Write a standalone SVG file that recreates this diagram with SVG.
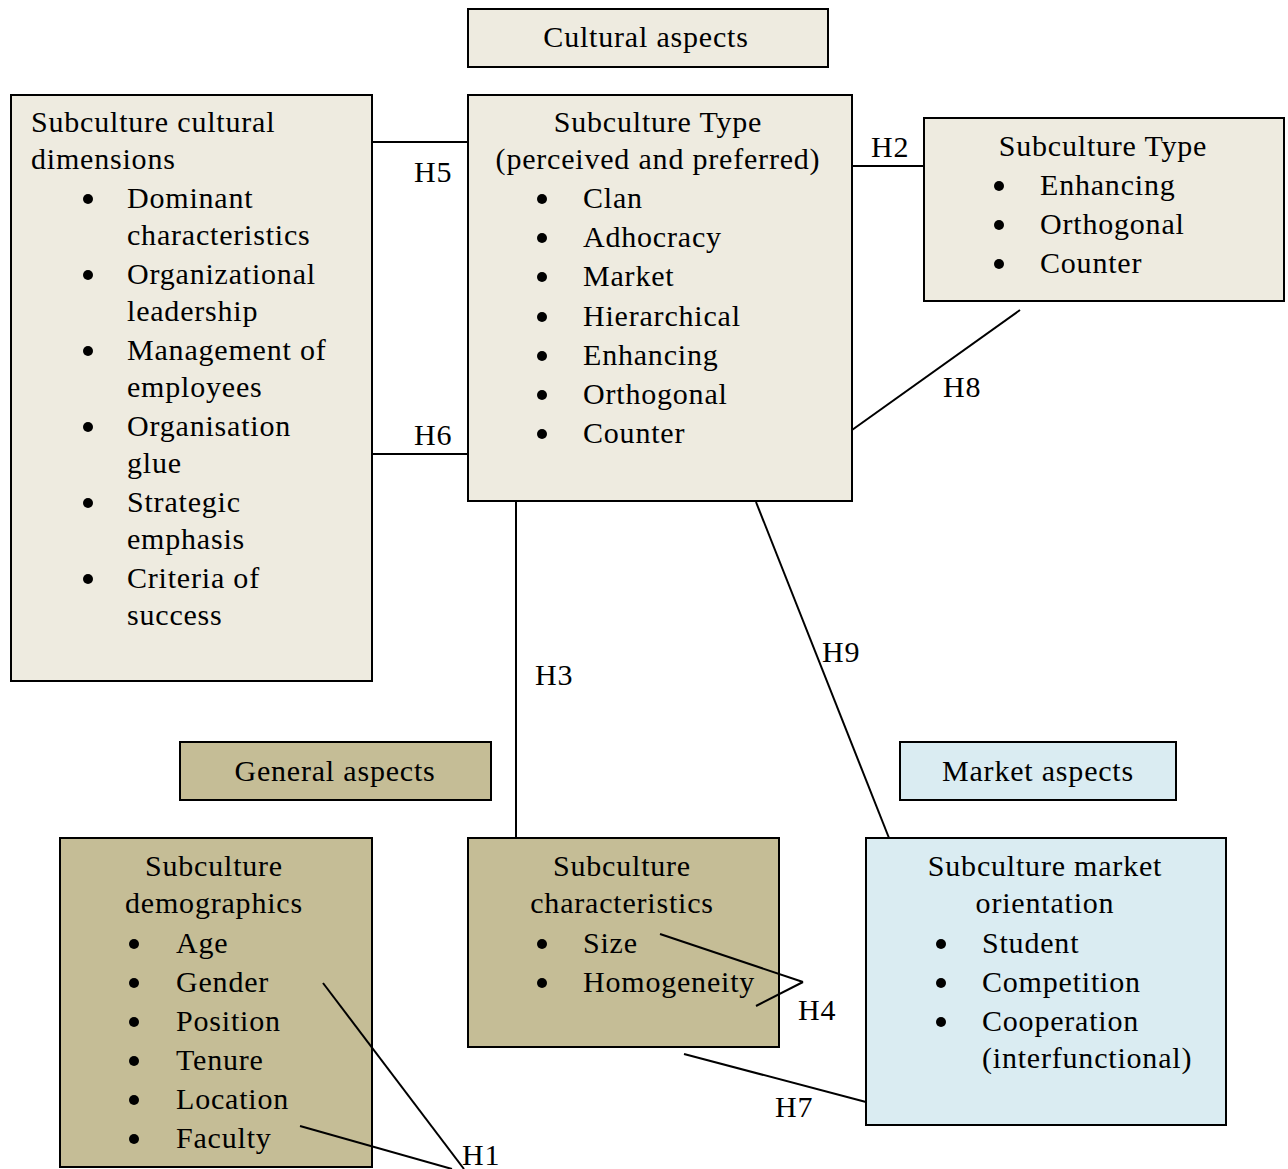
<svg xmlns="http://www.w3.org/2000/svg" width="1288" height="1169" viewBox="0 0 1288 1169">
  <style>
    text { font-family: "Liberation Serif", "Times New Roman", serif; font-size: 30px; letter-spacing: 0.8px; fill: #000; }
    .c { text-anchor: middle; }
    .box { stroke: #000; stroke-width: 2; }
    .cult { fill: #eeebe0; }
    .gen { fill: #c5bd96; }
    .mkt { fill: #daecf2; }
    .conn line { stroke: #000; stroke-width: 2; }
    .dot { fill: #000; }
  </style>

  <rect width="1288" height="1169" fill="#fff"/>

  <!-- Section headers -->
  <g id="cultural-aspects">
    <rect class="box cult" x="468" y="9" width="360" height="58"/>
    <text class="c" x="646" y="47">Cultural aspects</text>
  </g>
  <g id="general-aspects">
    <rect class="box gen" x="180" y="742" width="311" height="58"/>
    <text class="c" x="335" y="781">General aspects</text>
  </g>
  <g id="market-aspects">
    <rect class="box mkt" x="900" y="742" width="276" height="58"/>
    <text class="c" x="1038" y="781">Market aspects</text>
  </g>

  <!-- Subculture cultural dimensions -->
  <g id="cultural-dimensions">
    <rect class="box cult" x="11" y="95" width="361" height="586"/>
    <text x="31" y="132">Subculture cultural</text>
    <text x="31" y="169">dimensions</text>
    <circle class="dot" cx="88" cy="199" r="5"/>
    <text x="127" y="208">Dominant</text>
    <text x="127" y="245">characteristics</text>
    <circle class="dot" cx="88" cy="275" r="5"/>
    <text x="127" y="284">Organizational</text>
    <text x="127" y="321">leadership</text>
    <circle class="dot" cx="88" cy="351" r="5"/>
    <text x="127" y="360">Management of</text>
    <text x="127" y="397">employees</text>
    <circle class="dot" cx="88" cy="427" r="5"/>
    <text x="127" y="436">Organisation</text>
    <text x="127" y="473">glue</text>
    <circle class="dot" cx="88" cy="503" r="5"/>
    <text x="127" y="512">Strategic</text>
    <text x="127" y="549">emphasis</text>
    <circle class="dot" cx="88" cy="579" r="5"/>
    <text x="127" y="588">Criteria of</text>
    <text x="127" y="625">success</text>
  </g>

  <!-- Subculture type (perceived and preferred) -->
  <g id="subculture-type-main">
    <rect class="box cult" x="468" y="95" width="384" height="406"/>
    <text class="c" x="658" y="132">Subculture Type</text>
    <text class="c" x="658" y="169">(perceived and preferred)</text>
    <circle class="dot" cx="542" cy="199" r="5"/>
    <text x="583" y="208">Clan</text>
    <circle class="dot" cx="542" cy="238" r="5"/>
    <text x="583" y="247">Adhocracy</text>
    <circle class="dot" cx="542" cy="277" r="5"/>
    <text x="583" y="286">Market</text>
    <circle class="dot" cx="542" cy="317" r="5"/>
    <text x="583" y="326">Hierarchical</text>
    <circle class="dot" cx="542" cy="356" r="5"/>
    <text x="583" y="365">Enhancing</text>
    <circle class="dot" cx="542" cy="395" r="5"/>
    <text x="583" y="404">Orthogonal</text>
    <circle class="dot" cx="542" cy="434" r="5"/>
    <text x="583" y="443">Counter</text>
  </g>

  <!-- Subculture type (enhancing / orthogonal / counter) -->
  <g id="subculture-type-right">
    <rect class="box cult" x="924" y="118" width="360" height="183"/>
    <text class="c" x="1103" y="156">Subculture Type</text>
    <circle class="dot" cx="999" cy="186" r="5"/>
    <text x="1040" y="195">Enhancing</text>
    <circle class="dot" cx="999" cy="225" r="5"/>
    <text x="1040" y="234">Orthogonal</text>
    <circle class="dot" cx="999" cy="264" r="5"/>
    <text x="1040" y="273">Counter</text>
  </g>

  <!-- Subculture demographics -->
  <g id="demographics">
    <rect class="box gen" x="60" y="838" width="312" height="329"/>
    <text class="c" x="214" y="876">Subculture</text>
    <text class="c" x="214" y="913">demographics</text>
    <circle class="dot" cx="134" cy="944" r="5"/>
    <text x="176" y="953">Age</text>
    <circle class="dot" cx="134" cy="983" r="5"/>
    <text x="176" y="992">Gender</text>
    <circle class="dot" cx="134" cy="1022" r="5"/>
    <text x="176" y="1031">Position</text>
    <circle class="dot" cx="134" cy="1061" r="5"/>
    <text x="176" y="1070">Tenure</text>
    <circle class="dot" cx="134" cy="1100" r="5"/>
    <text x="176" y="1109">Location</text>
    <circle class="dot" cx="134" cy="1139" r="5"/>
    <text x="176" y="1148">Faculty</text>
  </g>

  <!-- Subculture characteristics -->
  <g id="characteristics">
    <rect class="box gen" x="468" y="838" width="311" height="209"/>
    <text class="c" x="622" y="876">Subculture</text>
    <text class="c" x="622" y="913">characteristics</text>
    <circle class="dot" cx="542" cy="944" r="5"/>
    <text x="583" y="953">Size</text>
    <circle class="dot" cx="542" cy="983" r="5"/>
    <text x="583" y="992">Homogeneity</text>
  </g>

  <!-- Subculture market orientation -->
  <g id="market-orientation">
    <rect class="box mkt" x="866" y="838" width="360" height="287"/>
    <text class="c" x="1045" y="876">Subculture market</text>
    <text class="c" x="1045" y="913">orientation</text>
    <circle class="dot" cx="941" cy="944" r="5"/>
    <text x="982" y="953">Student</text>
    <circle class="dot" cx="941" cy="983" r="5"/>
    <text x="982" y="992">Competition</text>
    <circle class="dot" cx="941" cy="1022" r="5"/>
    <text x="982" y="1031">Cooperation</text>
    <text x="982" y="1068">(interfunctional)</text>
  </g>

  <!-- Hypothesised relations -->
  <g id="connectors" class="conn">
    <line x1="372" y1="142" x2="468" y2="142"/>
    <line x1="372" y1="454" x2="468" y2="454"/>
    <line x1="852" y1="166" x2="924" y2="166"/>
    <line x1="852" y1="430" x2="1020" y2="310"/>
    <line x1="516" y1="501" x2="516" y2="838"/>
    <line x1="756" y1="502" x2="889" y2="838"/>
    <line x1="660" y1="934" x2="803" y2="982"/>
    <line x1="756" y1="1006" x2="803" y2="982"/>
    <line x1="684" y1="1054" x2="866" y2="1102"/>
    <line x1="323" y1="983" x2="464" y2="1169"/>
    <line x1="300" y1="1126" x2="452" y2="1169"/>
    <text x="414" y="182">H5</text>
    <text x="414" y="445">H6</text>
    <text x="871" y="157">H2</text>
    <text x="943" y="397">H8</text>
    <text x="535" y="685">H3</text>
    <text x="822" y="662">H9</text>
    <text x="798" y="1020">H4</text>
    <text x="775" y="1117">H7</text>
    <text x="462" y="1165">H1</text>
  </g>
</svg>
